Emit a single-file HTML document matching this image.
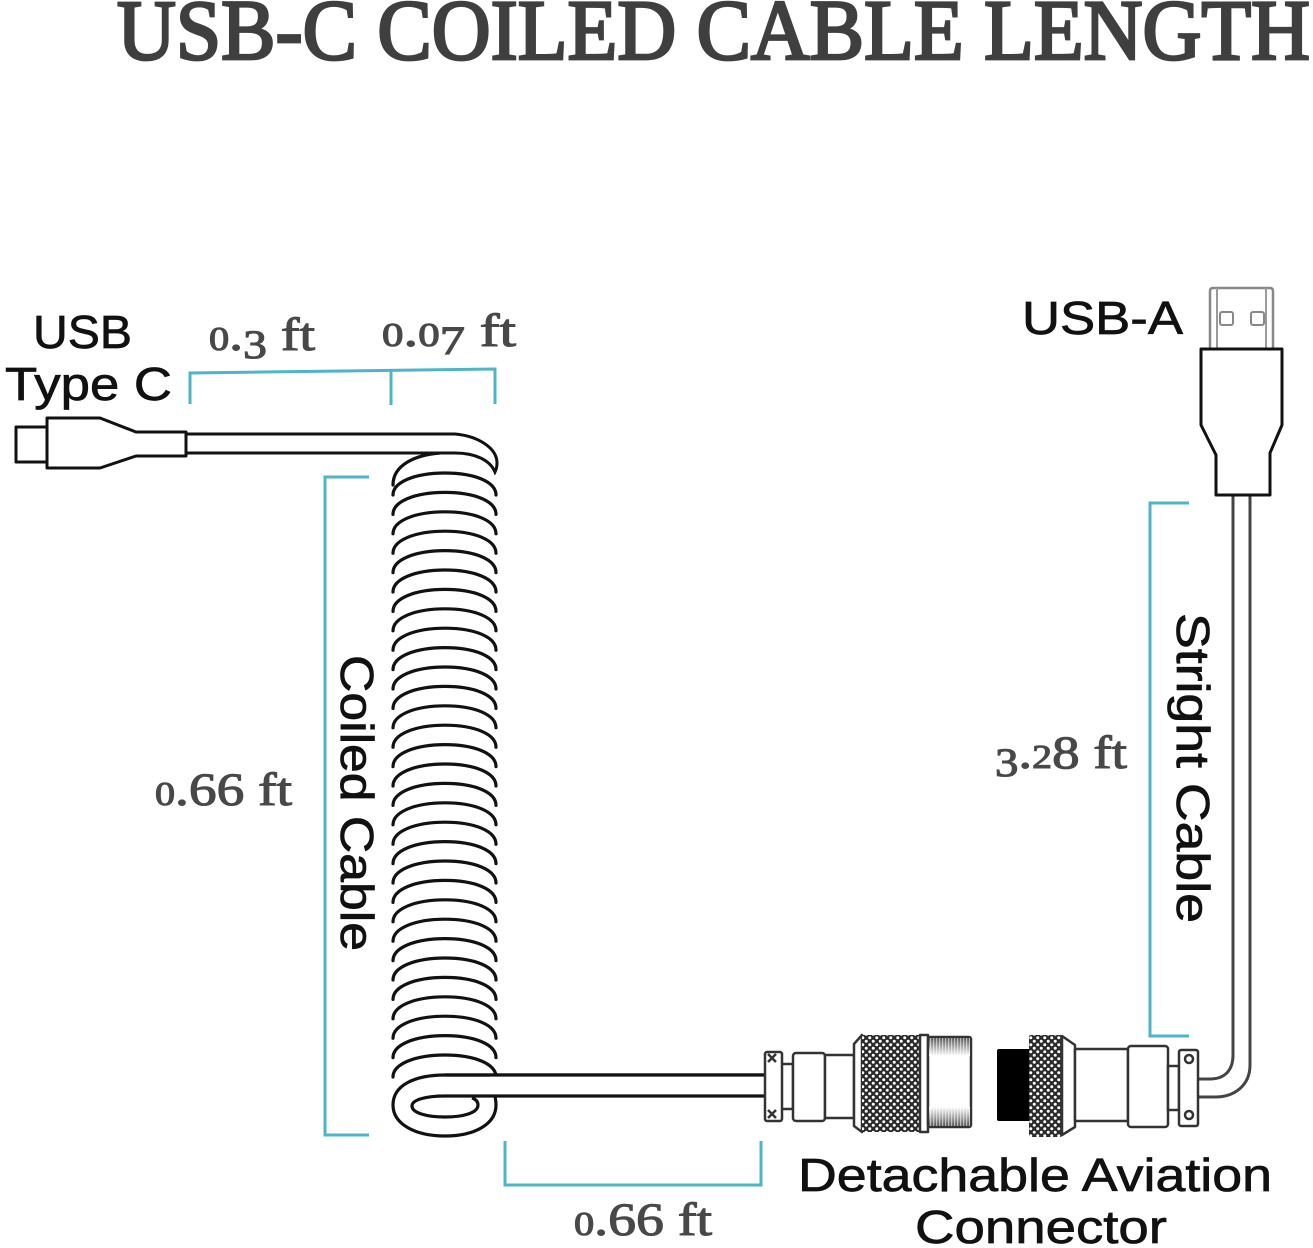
<!DOCTYPE html>
<html><head><meta charset="utf-8"><style>
html,body{margin:0;padding:0;background:#fff}
svg{display:block;filter:blur(.35px)}
.t{font-family:"Liberation Serif",serif;fill:#3f3f3f;stroke:#3f3f3f;stroke-width:2.8px}
.n{font-family:"Liberation Serif",serif;fill:#484848;stroke:#484848;stroke-width:1.1px;font-size:47px}
.s{font-family:"Liberation Sans",sans-serif;fill:#111;stroke:#111;stroke-width:.7px;font-size:46px}
.b{fill:none;stroke:#4db5c5;stroke-width:3}
.k{fill:none;stroke:#111;stroke-width:3;stroke-linejoin:round}
.g{fill:#fff;stroke:#333;stroke-width:2.5;stroke-linejoin:round}
</style></head><body>
<svg xmlns="http://www.w3.org/2000/svg" width="1313" height="1248" viewBox="0 0 1313 1248">
<defs>
<pattern id="kn" width="7" height="7" patternUnits="userSpaceOnUse">
<rect width="7" height="7" fill="#2a2a2a"/>
<circle cx="1.75" cy="1.75" r="1.5" fill="#fff"/><circle cx="5.25" cy="5.25" r="1.5" fill="#fff"/>
</pattern>
<linearGradient id="th1" x1="0" y1="0" x2="0" y2="1"><stop offset="0" stop-color="#555"/><stop offset="1" stop-color="#fff"/></linearGradient>
<linearGradient id="th2" x1="0" y1="0" x2="0" y2="1"><stop offset="0" stop-color="#fff"/><stop offset="1" stop-color="#555"/></linearGradient>
<pattern id="st" width="3" height="3" patternUnits="userSpaceOnUse"><rect width="1.2" height="3" fill="#fff" fill-opacity=".55"/></pattern>
<path id="a" d="M393 -2c0-13 22-22 52-22s51 9 51 22" fill="none" stroke="#111" stroke-width="3.2" stroke-linecap="round"/>
</defs>
<rect width="1313" height="1248" fill="#fff"/>

<text class="t" x="117" y="59" font-size="86" textLength="1193" lengthAdjust="spacingAndGlyphs">USB-C COILED CABLE LENGTH</text>

<!-- brackets -->
<path class="b" d="M190 404V373L495 369V404M391 370V405"/>
<path class="b" d="M369 477H325V1135H369"/>
<path class="b" d="M1189 503H1150V1036H1189"/>
<path class="b" d="M505 1141V1185H761V1141"/>

<!-- coil -->
<g>
<use href="#a" y="497"/><use href="#a" y="516.4"/><use href="#a" y="535.8"/><use href="#a" y="555.2"/><use href="#a" y="574.6"/><use href="#a" y="594"/><use href="#a" y="613.4"/><use href="#a" y="632.8"/><use href="#a" y="652.2"/><use href="#a" y="671.6"/><use href="#a" y="691"/><use href="#a" y="710.4"/><use href="#a" y="729.8"/><use href="#a" y="749.2"/><use href="#a" y="768.6"/><use href="#a" y="788"/><use href="#a" y="807.4"/><use href="#a" y="826.8"/><use href="#a" y="846.2"/><use href="#a" y="865.6"/><use href="#a" y="885"/><use href="#a" y="904.4"/><use href="#a" y="923.8"/><use href="#a" y="943.2"/><use href="#a" y="962.6"/><use href="#a" y="982"/><use href="#a" y="1001.4"/><use href="#a" y="1020.8"/><use href="#a" y="1040.2"/><use href="#a" y="1059.6"/><use href="#a" y="1079"/>
</g>
<path d="M393 485C393 465 415 455 440 453" fill="none" stroke="#111" stroke-width="3.2" stroke-linecap="round"/>

<!-- bottom loop -->
<path d="M445 1075H490V1096H445Z" fill="#fff"/>
<path d="M765 1075H445C415 1075 393 1085 393 1105C393 1124 415 1136 445 1136C475 1136 496 1124 496 1105C496 1100 495 1097 495 1095" fill="#fff" stroke="#111" stroke-width="3.2"/>
<path d="M490 1075H765V1096H490Z" fill="#fff"/>
<path d="M445 1075H765M765 1096H445C425 1096 412 1100 412 1106C412 1113 427 1117 445 1117C463 1117 478 1113 478 1105C478 1101 475 1099 472 1098" fill="none" stroke="#111" stroke-width="3.2"/>

<!-- top cable and USB-C plug -->
<path d="M186 434H455C478 436 497 448 497 463C497 468 496 470 495 472C490 460 475 453 455 453H186" fill="#fff" stroke="#111" stroke-width="3"/>
<rect class="k" x="16" y="427" width="31" height="35" fill="#fff"/>
<path class="k" d="M47 418H100L136 432H186V456H136L100 468H47Z" style="fill:#fff"/>

<!-- right cable -->
<path d="M1233 495V1055C1233 1070 1225 1079 1210 1079H1195M1250 495V1065C1250 1085 1235 1097 1215 1097H1195" fill="none" stroke="#444" stroke-width="3"/>

<!-- USB-A plug -->
<path d="M1210 349V291Q1210 288 1213 288H1270Q1273 288 1273 291V349" fill="#fff" stroke="#888" stroke-width="2.5"/>
<path d="M1217 288V349M1266 288V349" stroke="#999" stroke-width="2" fill="none"/>
<rect x="1220" y="312" width="13" height="13" rx="2" fill="#fff" stroke="#888" stroke-width="2"/>
<rect x="1251" y="312" width="13" height="13" rx="2" fill="#fff" stroke="#888" stroke-width="2"/>
<path class="k" d="M1201 349H1282V425L1270 453V495H1216V455L1201 425Z" style="fill:#fff"/>

<!-- aviation connector left -->
<path class="g" d="M781 1064H793V1109H781Z"/>
<rect class="g" x="765" y="1052" width="17" height="69" rx="2"/>
<path d="M768 1054l8 8M776 1054l-8 8M768 1110l8 8M776 1110l-8 8" stroke="#333" stroke-width="2.5"/>
<rect class="g" x="793" y="1053" width="32" height="68" rx="3"/>
<rect class="g" x="825" y="1055" width="29" height="63"/>
<path class="g" d="M854 1044L862 1035V1132L854 1126Z"/>
<rect x="862" y="1035" width="58" height="97" fill="url(#kn)"/>
<rect class="g" x="920" y="1035" width="8" height="97"/>
<rect class="g" x="928" y="1037" width="43" height="90" rx="2"/>
<rect x="929" y="1038" width="41" height="18" fill="url(#th1)"/>
<rect x="929" y="1107" width="41" height="19" fill="url(#th2)"/>
<rect x="929" y="1038" width="41" height="18" fill="url(#st)"/>
<rect x="929" y="1107" width="41" height="19" fill="url(#st)"/>

<!-- aviation connector right -->
<rect x="997" y="1049" width="34" height="72" rx="2" fill="#000"/>
<rect x="1029" y="1035" width="33" height="102" rx="2" fill="url(#kn)"/>
<path class="g" d="M1062 1036L1075 1045V1127L1062 1135Z"/>
<rect class="g" x="1075" y="1049" width="53" height="72"/>
<rect class="g" x="1128" y="1046" width="40" height="81" rx="3"/>
<rect class="g" x="1168" y="1066" width="11" height="44"/>
<rect class="g" x="1179" y="1050" width="19" height="76" rx="2"/>
<circle cx="1189" cy="1059" r="4" fill="#fff" stroke="#333" stroke-width="2.5"/>
<circle cx="1189" cy="1115" r="4" fill="#fff" stroke="#333" stroke-width="2.5"/>

<!-- sans labels -->
<text class="s" x="33" y="348" textLength="99" lengthAdjust="spacingAndGlyphs">USB</text>
<text class="s" x="5" y="400" textLength="167" lengthAdjust="spacingAndGlyphs">Type C</text>
<text class="s" x="1022" y="334" textLength="161" lengthAdjust="spacingAndGlyphs">USB-A</text>
<text class="s" x="798" y="1191" textLength="474" lengthAdjust="spacingAndGlyphs">Detachable Aviation</text>
<text class="s" x="915" y="1243" textLength="252" lengthAdjust="spacingAndGlyphs">Connector</text>
<text class="s" transform="translate(341 655) rotate(90)" textLength="296" lengthAdjust="spacingAndGlyphs">Coiled Cable</text>
<text class="s" transform="translate(1177 613) rotate(90)" textLength="310" lengthAdjust="spacingAndGlyphs">Stright Cable</text>

<!-- measures -->
<text class="n" x="209" y="350" textLength="106" lengthAdjust="spacingAndGlyphs"><tspan font-size="34">0</tspan>.<tspan font-size="40" dy="8">3</tspan><tspan dy="-8"> ft</tspan></text>
<text class="n" x="382" y="346" textLength="134" lengthAdjust="spacingAndGlyphs"><tspan font-size="34">0</tspan>.<tspan font-size="34">0</tspan><tspan font-size="40" dy="8">7</tspan><tspan dy="-8"> ft</tspan></text>
<text class="n" x="155" y="805" textLength="137" lengthAdjust="spacingAndGlyphs"><tspan font-size="34">0</tspan>.66 ft</text>
<text class="n" x="995" y="768" textLength="132" lengthAdjust="spacingAndGlyphs"><tspan font-size="40" dy="8">3</tspan><tspan dy="-8">.</tspan><tspan font-size="34">2</tspan>8 ft</text>
<text class="n" x="574" y="1235" textLength="138" lengthAdjust="spacingAndGlyphs"><tspan font-size="34">0</tspan>.66 ft</text>
</svg>
</body></html>
